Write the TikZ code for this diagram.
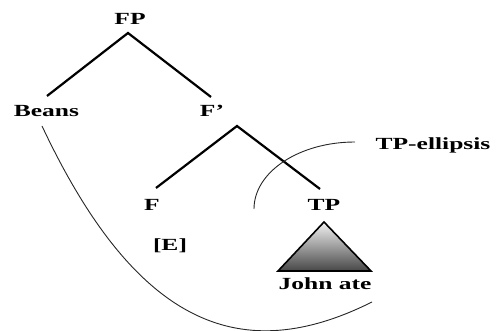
\documentclass[tikz,border=0pt]{standalone}
\usepackage{fontspec}
\setmainfont{Liberation Serif}[FakeStretch=1.5]
\begin{document}
\begin{tikzpicture}[x=1pt,y=-1pt,
  lbl/.style={font=\fontsize{17}{20}\selectfont\bfseries, inner sep=0pt},
  branch/.style={line width=2.2pt},
  thin/.style={line width=0.9pt, black!85}]
\useasboundingbox (0,0) rectangle (496,331);
\node[lbl] (FP) at (130,19) {FP};
\node[lbl] (Beans) at (46.5,111) {Beans};
\node[lbl] (Fbar) at (212,111) {F’};
\node[lbl] (F) at (152,205) {F};
\node[lbl] (E) at (170,246) {[E]};
\node[lbl] (TP) at (324,205) {TP};
\node[lbl] (JA) at (325,284) {John ate};
\node[lbl] (TPE) at (433,145) {TP-ellipsis};
% branch end points
\coordinate (FPb) at (128,33);
\coordinate (Beanst) at (47,96);
\coordinate (Fbart) at (211,97);
\coordinate (Fbarb) at (237,126);
\coordinate (Ft) at (156,188);
\coordinate (TPt) at (320,189);
\draw[branch] (Beanst) -- (FPb) -- (Fbart);
\draw[branch] (Ft) -- (Fbarb) -- (TPt);
% triangle
\coordinate (apex) at (324,222);
\coordinate (bl) at (278,271);
\coordinate (br) at (371,271);
\shade[draw, line width=1.6pt, top color=black!5, bottom color=black!72] (apex) -- (bl) -- (br) -- cycle;
% ellipsis arc
\coordinate (arcS) at (355,142);
\coordinate (arcE) at (254,209);
\draw[thin] (arcS) .. controls (299,142) and (254,172) .. (arcE);
% movement curve
\coordinate (mvS) at (42,126);
\coordinate (mvE) at (372,302);
\draw[thin] (mvS) .. controls (138,330) and (244,366) .. (mvE);
\end{tikzpicture}
\end{document}
